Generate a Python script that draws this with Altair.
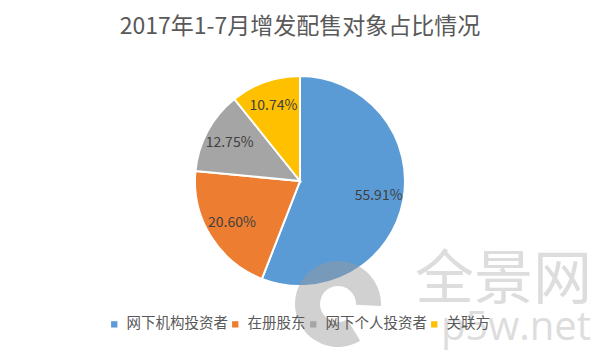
import altair as alt
import pandas as pd

categories = ["网下机构投资者", "在册股东", "网下个人投资者", "关联方"]
values = [55.91, 20.60, 12.75, 10.74]
labels = ["55.91%", "20.60%", "12.75%", "10.74%"]
colors = ["#5B9BD5", "#ED7D31", "#A5A5A5", "#FFC000"]
title_text = "2017年1-7月增发配售对象占比情况"
watermark_big = "全景网"
watermark_small = "p5w.net"

df = pd.DataFrame({"cat": categories, "val": values, "label": labels, "order": list(range(len(categories)))})

FONT = "Noto Sans CJK SC"
W, H = 584, 345
CX, CY = 292, 173

color_scale = alt.Scale(domain=categories, range=colors)

pie = alt.Chart(df).mark_arc(stroke="white", strokeWidth=2).encode(
    theta=alt.Theta("val:Q", stack=True),
    order=alt.Order("order:Q"),
    color=alt.Color("cat:N", scale=color_scale, sort=categories,
                    legend=alt.Legend(title=None, orient="none", legendX=99, legendY=309,
                                      direction="horizontal", columns=4, symbolType="square",
                                      symbolSize=40, labelFontSize=14.5, labelFont=FONT,
                                      labelColor="#595959", labelOffset=5, columnPadding=0,
                                      symbolStrokeWidth=0)),
    x=alt.value(CX), y=alt.value(CY),
    radius=alt.value(105),
)

text = alt.Chart(df).mark_text(font=FONT, fontSize=14, color="#404040").encode(
    theta=alt.Theta("val:Q", stack=True),
    order=alt.Order("order:Q"),
    text="label:N",
    x=alt.value(CX), y=alt.value(CY),
    radius=alt.value(80),
)

tdf = pd.DataFrame({"t": [title_text]})
title = alt.Chart(tdf).mark_text(font=FONT, fontSize=23, color="#595959", baseline="alphabetic").encode(
    text="t:N", x=alt.value(CX), y=alt.value(26))

wdf = pd.DataFrame({"t": [watermark_big]})
wm1 = alt.Chart(wdf).mark_text(font=FONT, fontSize=59, color="#c8c8c8", opacity=0.6,
                               align="right", baseline="alphabetic").encode(
    text="t:N", x=alt.value(584), y=alt.value(291))
wdf2 = pd.DataFrame({"t": [watermark_small]})
wm2 = alt.Chart(wdf2).mark_text(font="Open Sans", fontSize=40, color="#c8c8c8", opacity=0.6,
                                align="right", baseline="alphabetic").encode(
    text="t:N", x=alt.value(583), y=alt.value(332))

ldf = pd.DataFrame({"a": [0]})
logo = alt.Chart(ldf).mark_arc(color="#9a9a9a", opacity=0.45, innerRadius=18,
                               theta=2.6, theta2=7.9).encode(
    x=alt.value(330), y=alt.value(296), radius=alt.value(43))

chart = alt.layer(pie, text, title, logo, wm1, wm2).properties(
    width=W, height=H, padding=0
).configure_view(stroke=None)

chart.save("out.html", embed_options={"renderer": "svg", "actions": False})
